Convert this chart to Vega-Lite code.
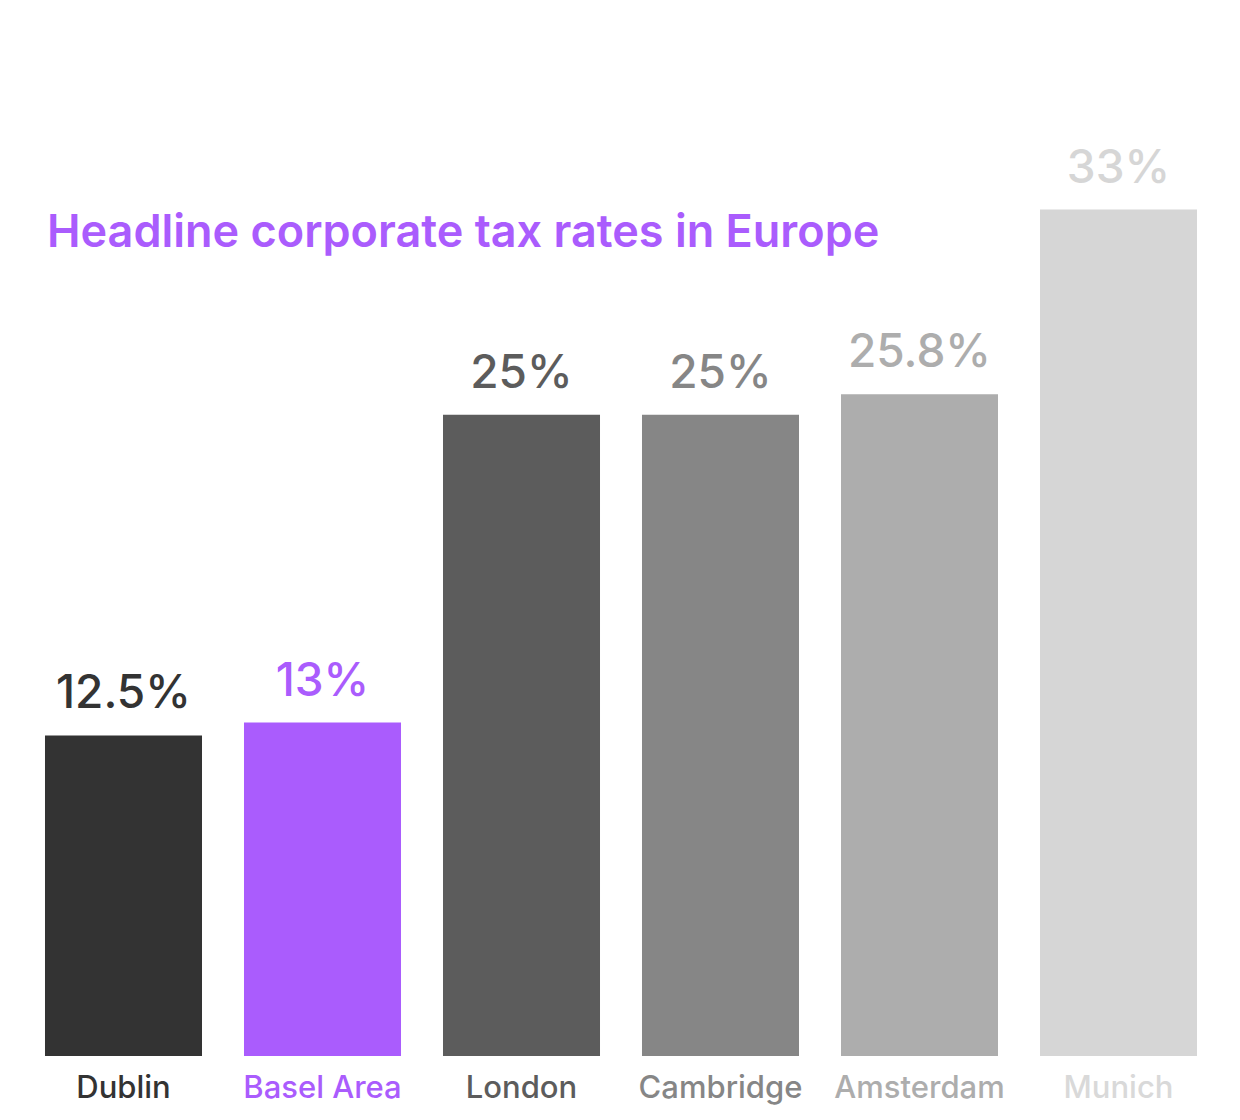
{
  "$schema": "https://vega.github.io/schema/vega-lite/v6.json",
  "width": 1194,
  "height": 1026,
  "autosize": {"type": "none"},
  "padding": {"left": 24, "top": 30, "right": 22, "bottom": 64},
  "background": "#ffffff",
  "title": {
    "text": "Headline corporate tax rates in Europe",
    "anchor": "start",
    "frame": "group",
    "orient": "top",
    "offset": -262,
    "baseline": "alphabetic",
    "dx": 23,
    "font": "Inter",
    "fontSize": 45,
    "fontWeight": 600,
    "color": "#aa5cfd"
  },
  "data": {
    "values": [
      {"city": "Dublin", "rate": 12.5, "label": "12.5%"},
      {"city": "Basel Area", "rate": 13, "label": "13%"},
      {"city": "London", "rate": 25, "label": "25%"},
      {"city": "Cambridge", "rate": 25, "label": "25%"},
      {"city": "Amsterdam", "rate": 25.8, "label": "25.8%"},
      {"city": "Munich", "rate": 33, "label": "33%"}
    ]
  },
  "encoding": {
    "x": {
      "field": "city",
      "type": "nominal",
      "sort": null,
      "scale": {"paddingInner": 0.211, "paddingOuter": 0.1055},
      "axis": {
        "title": null,
        "domain": false,
        "ticks": false,
        "labelAngle": 0,
        "labelFont": "Inter",
        "labelFontSize": 31,
        "labelFontWeight": 550,
        "labelPadding": 17,
        "labelBaseline": "top",
        "labelColor": {
          "condition": [
            {"test": "datum.value === 'Dublin'", "value": "#333333"},
            {"test": "datum.value === 'Basel Area'", "value": "#aa5cfd"},
            {"test": "datum.value === 'London'", "value": "#5c5c5c"},
            {"test": "datum.value === 'Cambridge'", "value": "#868686"},
            {"test": "datum.value === 'Amsterdam'", "value": "#adadad"}
          ],
          "value": "#d9d9d9"
        }
      }
    },
    "y": {
      "field": "rate",
      "type": "quantitative",
      "scale": {"domain": [0, 40], "nice": false},
      "axis": null
    },
    "color": {
      "field": "city",
      "type": "nominal",
      "scale": {
        "domain": ["Dublin", "Basel Area", "London", "Cambridge", "Amsterdam", "Munich"],
        "range": ["#333333", "#aa5cfd", "#5c5c5c", "#868686", "#adadad", "#d6d6d6"]
      },
      "legend": null
    }
  },
  "layer": [
    {"mark": {"type": "bar"}},
    {
      "mark": {
        "type": "text",
        "baseline": "alphabetic",
        "dy": -27,
        "font": "Inter",
        "fontSize": 46,
        "fontWeight": 550
      },
      "encoding": {"text": {"field": "label"}}
    }
  ],
  "config": {"view": {"stroke": null}}
}
